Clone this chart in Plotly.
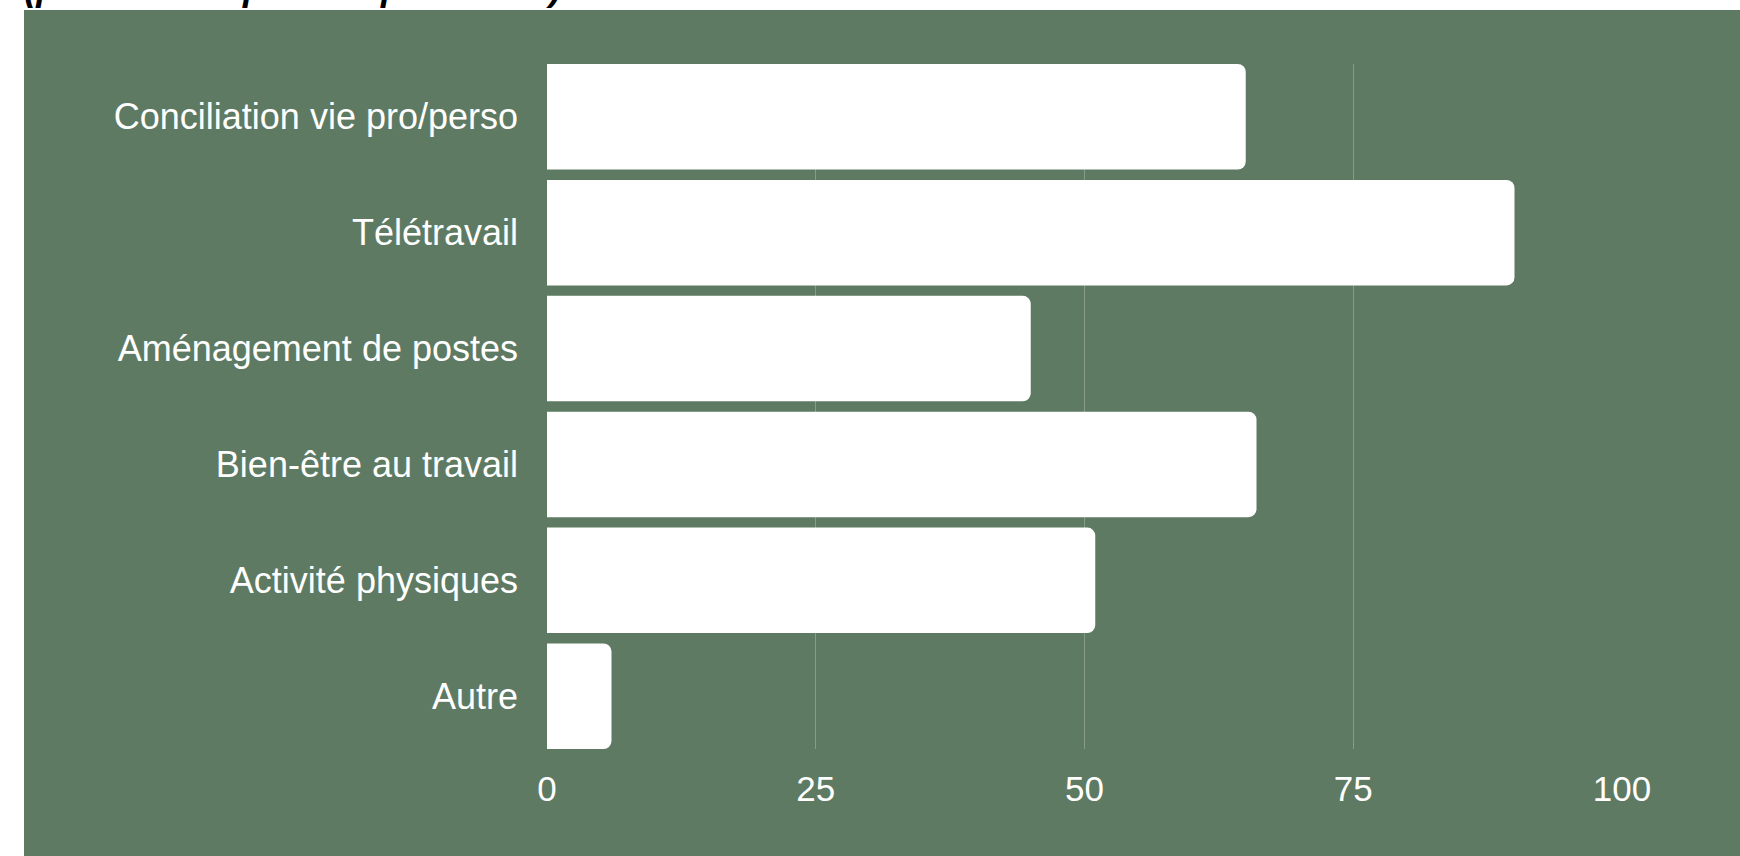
import plotly.graph_objects as go

categories = ["Conciliation vie pro/perso", "Télétravail", "Aménagement de postes",
              "Bien-être au travail", "Activité physiques", "Autre"]
values = [65, 90, 45, 66, 51, 6]
x_ticks = [0, 25, 50, 75, 100]
subtitle = "(plusieurs réponses possibles)"

GREEN = "#5E7A63"
W, H = 1740, 856
L, R, T, B = 547, 118, 64, 107
pw, ph = W - L - R, H - T - B

def px_x(p):
    return (p - L) / pw

def px_y(p):
    return (H - B - p) / ph

fig = go.Figure(go.Bar(
    x=values, y=categories, orientation="h",
    marker=dict(color="white", line=dict(width=0)),
    hoverinfo="x+y",
))

bw = 0.91
fig.update_layout(
    width=W, height=H,
    margin=dict(l=L, r=R, t=T, b=B, pad=0),
    paper_bgcolor="white",
    plot_bgcolor="rgba(0,0,0,0)",
    bargap=1 - bw,
    barcornerradius=8,
    showlegend=False,
    font=dict(family="Liberation Sans, Arial, sans-serif", color="white", size=35),
    xaxis=dict(
        range=[0, 100], tickvals=x_ticks, ticktext=[str(v) for v in x_ticks],
        showgrid=True, gridcolor="rgba(255,255,255,0.25)", gridwidth=1,
        zeroline=False, showline=False, ticks="",
        ticklabelstandoff=16,
        tickfont=dict(size=35, color="white"),
        fixedrange=True,
    ),
    yaxis=dict(
        type="category", categoryorder="array", categoryarray=categories,
        range=[len(categories) - 1 + bw / 2, -bw / 2],
        showgrid=False, zeroline=False, showline=False, ticks="",
        ticklabelstandoff=28,
        tickfont=dict(size=36, color="white"),
        fixedrange=True,
    ),
    shapes=[dict(
        type="rect", xref="paper", yref="paper", layer="below",
        x0=px_x(24), x1=px_x(W + 5), y0=px_y(H + 5), y1=px_y(10),
        fillcolor=GREEN, line=dict(width=0),
    )],
    annotations=[dict(
        text="<b><i>" + subtitle + "</i></b>",
        xref="paper", yref="paper", x=px_x(22), y=px_y(10),
        xanchor="left", yanchor="bottom", showarrow=False,
        font=dict(size=36.5, color="black", family="Liberation Sans, Arial, sans-serif"),
    )],
)

fig.write_html("out.html", config={"displayModeBar": False},
               post_script="document.body.style.margin='0';")
